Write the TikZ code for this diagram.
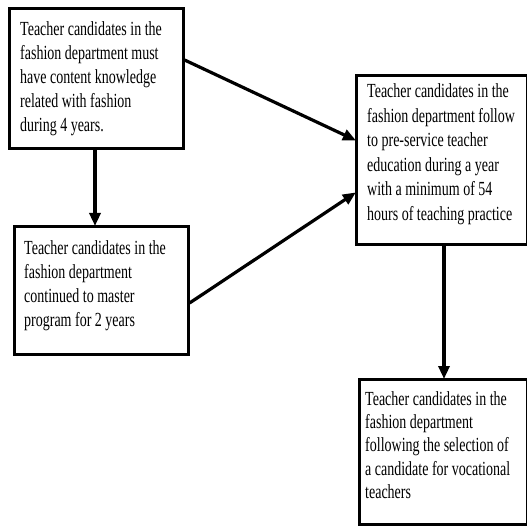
\documentclass[tikz,border=0pt]{standalone}
\usepackage{fontspec}
\usepackage{graphicx}
\setmainfont{Liberation Serif}
\usetikzlibrary{arrows.meta}
\newcommand{\squishtext}[2]{\fontsize{20}{#1}\selectfont\scalebox{0.70}[1]{\begin{tabular}[t]{@{}l@{}}#2\end{tabular}}}
\begin{document}
\begin{tikzpicture}[x=1pt,y=1pt,
  frame/.style={draw=black, line width=2.6pt, fill=white, anchor=north west, inner sep=0pt},
  label/.style={anchor=base west, inner sep=0pt},
  arr/.style={line width=3.2pt, -{Triangle[length=13pt,width=11pt]}, shorten >=-1pt}]
\useasboundingbox (0,0) rectangle (527,525);
% frames
\node[frame, minimum width=174pt, minimum height=140pt] (A) at (8,518) {};
\node[frame, minimum width=174pt, minimum height=128pt] (B) at (13,300) {};
\node[frame, minimum width=171pt, minimum height=169pt] (C) at (355,451) {};
\node[frame, minimum width=168pt, minimum height=145pt] (D) at (358,147) {};
% texts
\node[label] (At) at (20,489)
  {\squishtext{24}{Teacher candidates in the\\fashion department must\\have content knowledge\\related with fashion\\during 4 years.}};
\node[label] (Bt) at (24,270)
  {\squishtext{23.7}{Teacher candidates in the\\fashion department\\continued to master\\program for 2 years}};
\node[label] (Ct) at (367,427.3)
  {\squishtext{24.5}{Teacher candidates in the\\fashion department follow\\to pre-service teacher\\education during a year\\with a minimum of 54\\hours of teaching practice}};
\node[label] (Dt) at (365,120)
  {\squishtext{23.4}{Teacher candidates in the\\fashion department\\following the selection of\\a candidate for vocational\\teachers}};
% connectors
\draw[arr] ([xshift=87pt]A.south west) -- ([xshift=82pt]B.north west);
\draw[arr] ([yshift=-53pt]A.north east) -- ([yshift=-66pt]C.north west);
\draw[arr] ([yshift=-78pt]B.north east) -- ([yshift=-119pt]C.north west);
\draw[arr] ([xshift=89pt]C.south west) -- ([xshift=86pt]D.north west);
\end{tikzpicture}
\end{document}
